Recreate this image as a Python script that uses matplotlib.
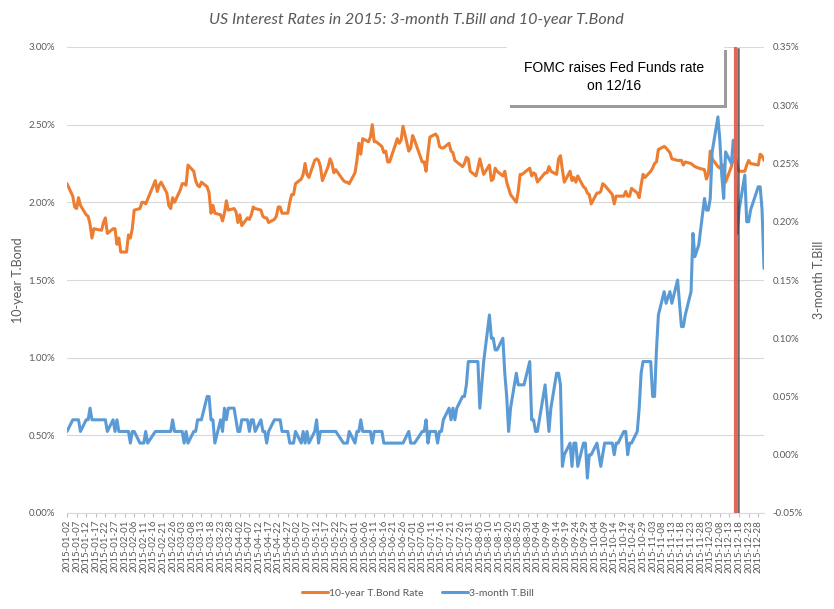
import numpy as np
import pandas as pd
import matplotlib
matplotlib.use('Agg')
import matplotlib.pyplot as plt
import matplotlib.dates as mdates
import matplotlib.transforms as mtransforms
from matplotlib.patches import Rectangle
from matplotlib.lines import Line2D

# 10-year T.Bond rate (left axis), business days of 2015
bond_days = [
    '01-02', '01-05', '01-06', '01-07', '01-08', '01-09', '01-12', '01-13', '01-14', '01-15', '01-16',
    '01-20', '01-21', '01-22', '01-23', '01-26', '01-27', '01-28', '01-29', '01-30',
    '02-02', '02-03', '02-04', '02-05', '02-06', '02-09', '02-10', '02-11', '02-12', '02-13',
    '02-17', '02-18', '02-19', '02-20', '02-23', '02-24', '02-25', '02-26', '02-27',
    '03-02', '03-03', '03-04', '03-05', '03-06', '03-09', '03-10', '03-11', '03-12', '03-13',
    '03-16', '03-17', '03-18', '03-19', '03-20', '03-23', '03-24', '03-25', '03-26', '03-27', '03-30', '03-31',
    '04-01', '04-02', '04-03', '04-06', '04-07', '04-08', '04-09', '04-10', '04-13', '04-14', '04-15',
    '04-16', '04-17', '04-20', '04-21', '04-22', '04-23', '04-24', '04-27', '04-28', '04-29', '04-30',
    '05-01', '05-04', '05-05', '05-06', '05-07', '05-08', '05-11', '05-12', '05-13', '05-14', '05-15',
    '05-18', '05-19', '05-20', '05-21', '05-22', '05-26', '05-27', '05-28', '05-29',
    '06-01', '06-02', '06-03', '06-04', '06-05', '06-08', '06-09', '06-10', '06-11', '06-12', '06-15',
    '06-16', '06-17', '06-18', '06-19', '06-22', '06-23', '06-24', '06-25', '06-26', '06-29', '06-30',
    '07-01', '07-02', '07-06', '07-07', '07-08', '07-09', '07-10', '07-13', '07-14', '07-15', '07-16',
    '07-17', '07-20', '07-21', '07-22', '07-23', '07-24', '07-27', '07-28', '07-29', '07-30', '07-31',
    '08-03', '08-04', '08-05', '08-06', '08-07', '08-10', '08-11', '08-12', '08-13', '08-14', '08-17',
    '08-18', '08-19', '08-20', '08-21', '08-24', '08-25', '08-26', '08-27', '08-28', '08-31',
    '09-01', '09-02', '09-03', '09-04', '09-08', '09-09', '09-10', '09-11', '09-14', '09-15', '09-16',
    '09-17', '09-18', '09-21', '09-22', '09-23', '09-24', '09-25', '09-28', '09-29', '09-30',
    '10-01', '10-02', '10-05', '10-06', '10-07', '10-08', '10-09', '10-13', '10-14', '10-15', '10-16',
    '10-19', '10-20', '10-21', '10-22', '10-23', '10-26', '10-27', '10-28', '10-29', '10-30',
    '11-02', '11-03', '11-04', '11-05', '11-06', '11-09', '11-10', '11-12', '11-13', '11-16',
    '11-17', '11-18', '11-19', '11-20', '11-23', '11-24', '11-25', '11-27', '11-30',
    '12-01', '12-02', '12-03', '12-04', '12-07', '12-08', '12-09', '12-10', '12-11', '12-14', '12-15',
    '12-16', '12-17', '12-18', '12-21', '12-22', '12-23', '12-24', '12-28', '12-29', '12-30', '12-31',
]
bond_rate = [
    2.12, 2.04, 1.97, 1.96, 2.03, 1.98, 1.92, 1.91, 1.86, 1.77, 1.83,
    1.82, 1.87, 1.90, 1.80, 1.83, 1.83, 1.73, 1.77, 1.68,
    1.68, 1.79, 1.77, 1.83, 1.95, 1.96, 2.00, 2.00, 1.99, 2.02,
    2.14, 2.07, 2.11, 2.13, 2.06, 1.98, 1.96, 2.03, 2.00,
    2.08, 2.12, 2.12, 2.11, 2.24, 2.20, 2.14, 2.11, 2.10, 2.13,
    2.10, 2.06, 1.93, 1.98, 1.93, 1.92, 1.88, 1.93, 2.01, 1.95, 1.96, 1.94,
    1.87, 1.92, 1.85, 1.90, 1.89, 1.92, 1.97, 1.96, 1.95, 1.91, 1.90,
    1.90, 1.87, 1.89, 1.91, 1.97, 1.97, 1.93, 1.93, 2.00, 2.05, 2.05,
    2.12, 2.15, 2.18, 2.25, 2.18, 2.16, 2.27, 2.28, 2.27, 2.23, 2.14,
    2.23, 2.28, 2.25, 2.19, 2.21, 2.14, 2.13, 2.13, 2.12,
    2.19, 2.27, 2.38, 2.31, 2.41, 2.39, 2.42, 2.50, 2.39, 2.39, 2.36,
    2.32, 2.33, 2.26, 2.26, 2.37, 2.41, 2.38, 2.40, 2.49, 2.33, 2.35,
    2.43, 2.40, 2.26, 2.26, 2.20, 2.32, 2.42, 2.44, 2.42, 2.36, 2.35,
    2.35, 2.38, 2.33, 2.32, 2.27, 2.26, 2.23, 2.25, 2.29, 2.28, 2.20,
    2.17, 2.22, 2.28, 2.23, 2.18, 2.24, 2.14, 2.15, 2.22, 2.20, 2.17,
    2.20, 2.13, 2.09, 2.05, 2.00, 2.07, 2.18, 2.18, 2.19, 2.22,
    2.17, 2.19, 2.18, 2.13, 2.19, 2.19, 2.23, 2.20, 2.18, 2.28, 2.30,
    2.21, 2.13, 2.20, 2.14, 2.16, 2.13, 2.17, 2.10, 2.09, 2.06,
    2.05, 1.99, 2.06, 2.06, 2.07, 2.12, 2.11, 2.05, 1.99, 2.04, 2.04,
    2.04, 2.07, 2.04, 2.04, 2.09, 2.06, 2.03, 2.11, 2.18, 2.16,
    2.20, 2.22, 2.25, 2.26, 2.34, 2.36, 2.35, 2.32, 2.28, 2.27,
    2.27, 2.27, 2.24, 2.26, 2.25, 2.24, 2.23, 2.22, 2.21,
    2.15, 2.18, 2.33, 2.28, 2.23, 2.22, 2.24, 2.24, 2.13, 2.23, 2.28,
    2.30, 2.24, 2.20, 2.20, 2.24, 2.27, 2.25, 2.24, 2.31, 2.30, 2.27,
]

# 3-month T.Bill rate (right axis)
bill_days = bond_days
bill_rate = [
    0.02, 0.03, 0.03, 0.03, 0.03, 0.02, 0.03, 0.03, 0.04, 0.03, 0.03,
    0.03, 0.03, 0.03, 0.02, 0.03, 0.02, 0.03, 0.02, 0.02,
    0.02, 0.02, 0.01, 0.02, 0.02, 0.01, 0.01, 0.01, 0.02, 0.01,
    0.02, 0.02, 0.02, 0.02, 0.02, 0.02, 0.02, 0.03, 0.02,
    0.02, 0.02, 0.01, 0.02, 0.01, 0.02, 0.02, 0.03, 0.03, 0.03,
    0.05, 0.05, 0.03, 0.03, 0.01, 0.03, 0.02, 0.04, 0.03, 0.04, 0.04, 0.03,
    0.02, 0.02, 0.03, 0.03, 0.02, 0.03, 0.03, 0.02, 0.03, 0.02, 0.02,
    0.01, 0.02, 0.03, 0.03, 0.03, 0.03, 0.02, 0.02, 0.01, 0.01, 0.01,
    0.02, 0.01, 0.02, 0.01, 0.02, 0.01, 0.02, 0.03, 0.01, 0.02, 0.02,
    0.02, 0.02, 0.02, 0.02, 0.02, 0.01, 0.01, 0.01, 0.02,
    0.01, 0.02, 0.02, 0.03, 0.02, 0.02, 0.02, 0.01, 0.02, 0.02, 0.02,
    0.01, 0.01, 0.01, 0.01, 0.01, 0.01, 0.01, 0.01, 0.01, 0.02, 0.01,
    0.01, 0.01, 0.02, 0.02, 0.03, 0.01, 0.02, 0.02, 0.01, 0.02, 0.02,
    0.03, 0.04, 0.03, 0.04, 0.03, 0.04, 0.05, 0.05, 0.06, 0.08, 0.08,
    0.08, 0.08, 0.04, 0.06, 0.08, 0.12, 0.10, 0.10, 0.09, 0.09, 0.10,
    0.07, 0.05, 0.02, 0.04, 0.07, 0.06, 0.06, 0.06, 0.06, 0.08,
    0.03, 0.03, 0.02, 0.02, 0.06, 0.04, 0.02, 0.04, 0.07, 0.07, 0.06,
    -0.01, 0.00, 0.01, -0.01, 0.01, 0.01, -0.01, 0.01, 0.01, -0.02,
    0.00, 0.00, 0.01, 0.00, -0.01, 0.00, 0.01, 0.01, 0.00, 0.01, 0.01,
    0.02, 0.02, 0.00, 0.01, 0.01, 0.02, 0.04, 0.07, 0.08, 0.08,
    0.08, 0.05, 0.05, 0.09, 0.12, 0.14, 0.13, 0.14, 0.13, 0.15,
    0.13, 0.11, 0.11, 0.12, 0.14, 0.19, 0.17, 0.18, 0.22,
    0.21, 0.21, 0.22, 0.26, 0.29, 0.27, 0.24, 0.22, 0.26, 0.25, 0.27,
    0.26, 0.19, 0.21, 0.24, 0.20, 0.20, 0.21, 0.23, 0.23, 0.21, 0.16,
]

bond_ticks = [0.0, 0.5, 1.0, 1.5, 2.0, 2.5, 3.0]
bill_ticks = [-0.05, 0.0, 0.05, 0.10, 0.15, 0.20, 0.25, 0.30, 0.35]
fomc_day = '2015-12-16'
note = 'FOMC raises Fed Funds rate\non 12/16'

assert len(bond_days) == len(bond_rate) == len(bill_rate)

grey = '#595959'
orange = '#ED7D31'
blue = '#5B9BD5'
plt.rcParams['font.family'] = ['Lato', 'DejaVu Sans']

W, H = 834, 609
fig = plt.figure(figsize=(W / 100, H / 100), dpi=100)
ax = fig.add_axes([67 / W, 1 - 513 / H, 697 / W, 466 / H])
ax2 = ax.twinx()

bond_x = pd.to_datetime(['2015-' + d for d in bond_days])
bill_x = pd.to_datetime(['2015-' + d for d in bill_days])

l1, = ax.plot(bond_x, bond_rate, color=orange, lw=2.2,
              solid_joinstyle='round', solid_capstyle='round')
l2, = ax2.plot(bill_x, bill_rate, color=blue, lw=2.2,
               solid_joinstyle='round', solid_capstyle='round')

# x axis: every 5 days
xt = pd.date_range('2015-01-02', '2015-12-28', freq='5D')
ax.set_xlim(pd.Timestamp('2015-01-02'), pd.Timestamp('2015-12-31'))
ax.set_xticks(xt)
ax.set_xticklabels([d.strftime('%Y-%m-%d') for d in xt], rotation=90)
ax.tick_params(axis='x', length=3, color='#BFBFBF', labelsize=7,
               labelcolor=grey, pad=2)

ax.set_ylim(0, 3)
ax.set_yticks(bond_ticks)
ax.set_yticklabels([f'{v:.2f}%' for v in bond_ticks])
ax.tick_params(axis='y', length=0, labelsize=7, labelcolor=grey, pad=8.5)
ax.yaxis.grid(True, color='#D9D9D9', lw=0.8)
ax.set_axisbelow(True)

ax2.set_ylim(-0.05, 0.35)
ax2.set_yticks(bill_ticks)
ax2.set_yticklabels([f'{v:.2f}%' for v in bill_ticks])
ax2.tick_params(axis='y', length=0, labelsize=7, labelcolor=grey, pad=6)

for a in (ax, ax2):
    for s in ('top', 'left', 'right'):
        a.spines[s].set_visible(False)
ax.spines['bottom'].set_color('#D9D9D9')
ax2.spines['bottom'].set_visible(False)

# FOMC marker line with a shadow
xn = mdates.date2num(pd.Timestamp(fomc_day))
shift = mtransforms.ScaledTranslation(0.03, -0.02, fig.dpi_scale_trans)
shadow = Line2D([xn, xn], [0, 1], color='#3a3a3a', lw=1.8, alpha=0.75,
                transform=ax2.get_xaxis_transform() + shift, zorder=5)
ax2.add_line(shadow)
ax2.axvline(xn, color='#E0675A', lw=2.3, zorder=6)
ax2.set_xlim(pd.Timestamp('2015-01-02'), pd.Timestamp('2015-12-31'))

# annotation box with drop shadow
bx0, bx1, by0, by1 = 507, 724, 45, 105
fig.add_artist(Rectangle(((bx0 + 3) / W, 1 - (by1 + 3) / H), (bx1 - bx0) / W,
                         (by1 - by0 - 2) / H, transform=fig.transFigure,
                         facecolor='#7a7a7a', edgecolor='none', alpha=0.75, zorder=3))
fig.add_artist(Rectangle((bx0 / W, 1 - by1 / H), (bx1 - bx0) / W, (by1 - by0) / H,
                         transform=fig.transFigure, facecolor='white',
                         edgecolor='none', zorder=4))
fig.text(614 / W, 1 - 77 / H, note, ha='center', va='center', fontsize=10,
         family=['Liberation Sans', 'DejaVu Sans'], linespacing=1.35, zorder=5)

fig.text(416 / W, 1 - 20 / H,
         'US Interest Rates in 2015: 3-month T.Bill and 10-year T.Bond',
         ha='center', va='center', fontsize=11.6, style='italic', color=grey)
fig.text(18 / W, 1 - 280 / H, '10-year T.Bond', rotation=90, ha='center',
         va='center', fontsize=9, color=grey)
fig.text(819 / W, 1 - 280 / H, '3-month T.Bill', rotation=90, ha='center',
         va='center', fontsize=9, color=grey)

fig.legend([l1, l2], ['10-year T.Bond Rate', '3-month T.Bill'], loc='center',
           bbox_to_anchor=(418 / W, 1 - 593 / H), ncol=2, frameon=False,
           fontsize=7.5, handlelength=2.5, handletextpad=0.1, columnspacing=1.8,
           labelcolor=grey)

fig.savefig('out.png', dpi=100)
